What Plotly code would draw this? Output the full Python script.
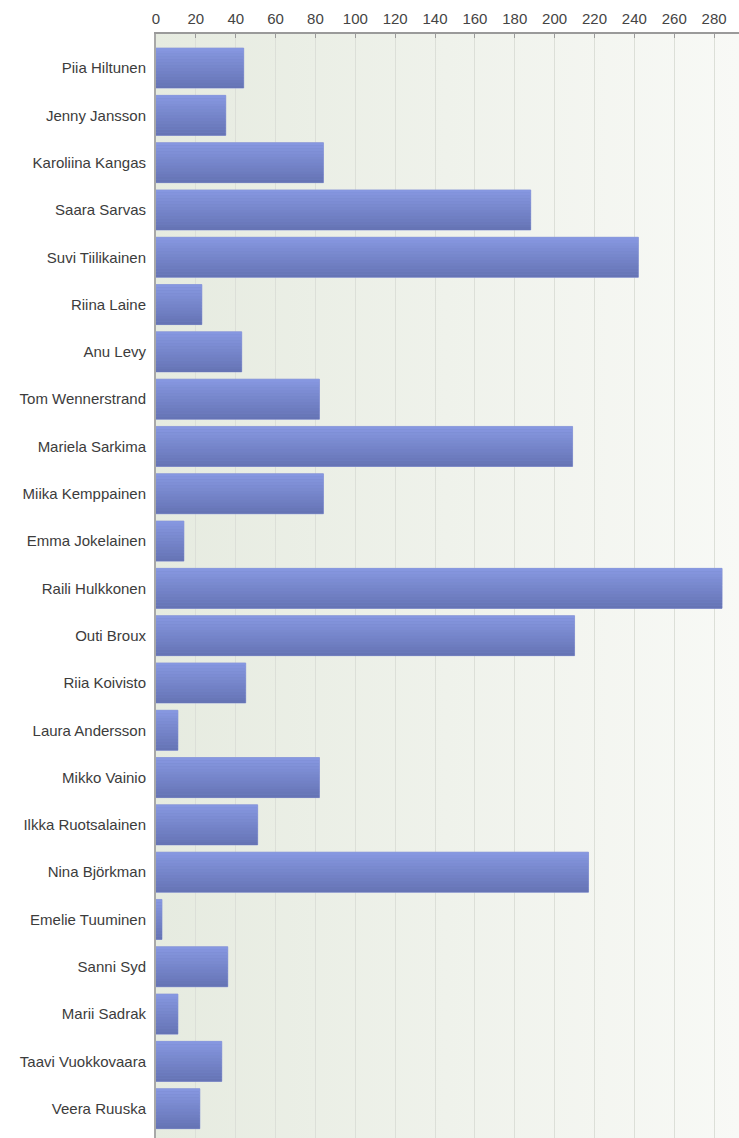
import plotly.graph_objects as go

# Respondents and their scores
names = [
    "Piia Hiltunen", "Jenny Jansson", "Karoliina Kangas", "Saara Sarvas",
    "Suvi Tiilikainen", "Riina Laine", "Anu Levy", "Tom Wennerstrand",
    "Mariela Sarkima", "Miika Kemppainen", "Emma Jokelainen", "Raili Hulkkonen",
    "Outi Broux", "Riia Koivisto", "Laura Andersson", "Mikko Vainio",
    "Ilkka Ruotsalainen", "Nina Björkman", "Emelie Tuuminen", "Sanni Syd",
    "Marii Sadrak", "Taavi Vuokkovaara", "Veera Ruuska",
]
scores = [44, 35, 84, 188, 242, 23, 43, 82, 209, 84, 14, 284,
          210, 45, 11, 82, 51, 217, 3, 36, 11, 33, 22]
x_ticks = list(range(0, 281, 20))

BAR_W = 0.846
N_SLICES = 14
TOP_RGB = (134, 151, 224)
BOT_RGB = (102, 116, 181)


def mix(a, b, t):
    return "rgb(%d,%d,%d)" % tuple(round(a[i] + (b[i] - a[i]) * t) for i in range(3))


fig = go.Figure()

# base bar with a soft outline
fig.add_trace(go.Bar(
    y=names, x=scores, orientation="h", width=BAR_W,
    marker=dict(color=mix(TOP_RGB, BOT_RGB, 0.5),
                line=dict(color="rgba(150,160,215,0.9)", width=1)),
    hoverinfo="skip", showlegend=False,
))

# thin horizontal slices give each bar a vertical light-to-dark shading
step = BAR_W / N_SLICES
for k in range(N_SLICES):
    fig.add_trace(go.Bar(
        y=names, x=scores, orientation="h",
        width=step * 1.02, offset=-BAR_W / 2 + k * step,
        marker=dict(color=mix(TOP_RGB, BOT_RGB, k / (N_SLICES - 1)), line=dict(width=0)),
        hoverinfo="skip", showlegend=False,
    ))

# background gradient for the plotting area
svg = (
    "<svg xmlns='http://www.w3.org/2000/svg' width='100' height='100' preserveAspectRatio='none'>"
    "<defs><linearGradient id='g' x1='0' y1='0' x2='1' y2='0'>"
    "<stop offset='0' stop-color='%23e6ebe0'/><stop offset='1' stop-color='%23f8f9f6'/>"
    "</linearGradient></defs><rect width='100' height='100' fill='url(%23g)'/></svg>"
)

fig.update_layout(
    width=739, height=1138,
    margin=dict(l=156, r=0, t=34, b=0),
    paper_bgcolor="white",
    plot_bgcolor="rgba(0,0,0,0)",
    barmode="overlay",
    showlegend=False,
    font=dict(family="Liberation Sans, Arial, sans-serif", size=15, color="#444"),
    images=[dict(
        source="data:image/svg+xml;utf8," + svg,
        xref="paper", yref="paper", x=0, y=1, sizex=1, sizey=1,
        sizing="stretch", layer="below", xanchor="left", yanchor="top",
    )],
    xaxis=dict(
        side="top", range=[0, 292.5], tickvals=x_ticks,
        showgrid=True, gridcolor="#dcdfd8", gridwidth=1,
        showline=True, linecolor="#9a9a9a", linewidth=2,
        ticks="inside", ticklen=4, tickcolor="#9a9a9a",
        tickfont=dict(size=15, color="#444"), zeroline=False,
        ticklabelstandoff=2,
        fixedrange=True,
    ),
    yaxis=dict(
        type="category", range=[22.62, -0.72],
        showline=True, linecolor="#a8a8a8", linewidth=2,
        ticks="", ticklabelstandoff=5,
        tickfont=dict(size=15, color="#3c3c3c"), showgrid=False,
        fixedrange=True,
    ),
)

fig.write_html("out.html")
